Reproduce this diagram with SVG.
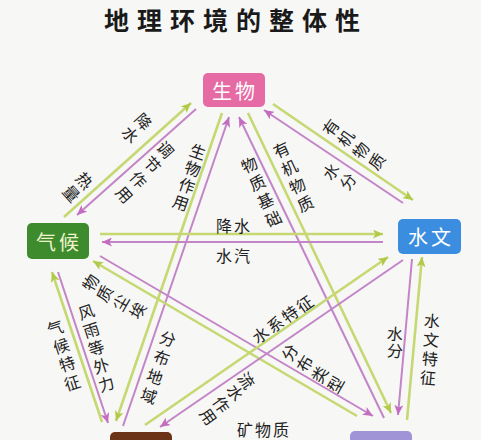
<svg xmlns="http://www.w3.org/2000/svg" width="481" height="440" viewBox="0 0 481 440">
<style>
.g{stroke:#c6d872;stroke-width:2.6;fill:none}
.p{stroke:#c384c8;stroke-width:2;fill:none}
.lb{font-family:"Noto Sans CJK SC","Noto Sans",sans-serif;font-size:16px;fill:#222;text-anchor:middle;dominant-baseline:central}
.nt{font-family:"Noto Sans CJK SC","Noto Sans",sans-serif;font-size:20px;text-anchor:middle;dominant-baseline:central;letter-spacing:3px}
.title{font-family:"Noto Sans CJK SC","Noto Sans",sans-serif;font-size:25px;font-weight:bold;fill:#1a1a1a;text-anchor:middle;letter-spacing:8px}
</style>
<defs>
<marker id="ag" markerUnits="userSpaceOnUse" markerWidth="11" markerHeight="9" refX="10" refY="4.5" orient="auto"><path d="M0,0 L10,4.5 L0,9 L2.5,4.5 z" fill="#b2ca4a"/></marker>
<marker id="ap" markerUnits="userSpaceOnUse" markerWidth="11" markerHeight="9" refX="10" refY="4.5" orient="auto"><path d="M0,0 L10,4.5 L0,9 L2.5,4.5 z" fill="#c46cc0"/></marker>
</defs>
<rect width="481" height="440" fill="#f7f7f5"/>
<text class="title" x="236" y="30">地理环境的整体性</text>

<g id="connectors">
<line class="g" x1="64" y1="217" x2="191" y2="103" marker-end="url(#ag)"/>
<line class="p" x1="196" y1="109" x2="77" y2="215" marker-end="url(#ap)"/>
<line class="g" x1="222" y1="113" x2="116" y2="421" marker-end="url(#ag)"/>
<line class="p" x1="123" y1="426" x2="229" y2="117" marker-end="url(#ap)"/>
<line class="g" x1="248" y1="113" x2="391" y2="413" marker-end="url(#ag)"/>
<line class="p" x1="384" y1="418" x2="239" y2="117" marker-end="url(#ap)"/>
<line class="g" x1="273" y1="104" x2="413" y2="200" marker-end="url(#ag)"/>
<line class="p" x1="403" y1="203" x2="264" y2="110" marker-end="url(#ap)"/>
<line class="g" x1="100" y1="234" x2="383" y2="234" marker-end="url(#ag)"/>
<line class="p" x1="383" y1="242" x2="102" y2="242" marker-end="url(#ap)"/>
<line class="g" x1="357" y1="416" x2="93" y2="261" marker-end="url(#ag)"/>
<line class="p" x1="100" y1="256" x2="373" y2="416" marker-end="url(#ap)"/>
<line class="g" x1="102" y1="422" x2="52" y2="272" marker-end="url(#ag)"/>
<line class="p" x1="58" y1="272" x2="108" y2="423" marker-end="url(#ap)"/>
<line class="g" x1="145" y1="425" x2="388" y2="257" marker-end="url(#ag)"/>
<line class="p" x1="403" y1="260" x2="160" y2="427" marker-end="url(#ap)"/>
<line class="g" x1="407" y1="420" x2="422" y2="257" marker-end="url(#ag)"/>
<line class="p" x1="412" y1="259" x2="398" y2="415" marker-end="url(#ap)"/>
</g>

<g id="labels">
<text class="lb" transform="translate(144,121) rotate(48)">降</text>
<text class="lb" transform="translate(131,134) rotate(48)">水</text>
<text class="lb" transform="translate(85,180) rotate(48)">热</text>
<text class="lb" transform="translate(72,193) rotate(48)">量</text>
<text class="lb" transform="translate(166,149) rotate(48)">调</text>
<text class="lb" transform="translate(153,164) rotate(48)">节</text>
<text class="lb" transform="translate(139,179) rotate(48)">作</text>
<text class="lb" transform="translate(125,194) rotate(48)">用</text>

<text class="lb" transform="translate(198,151) rotate(19)">生</text>
<text class="lb" transform="translate(193,168) rotate(19)">物</text>
<text class="lb" transform="translate(187,185) rotate(19)">作</text>
<text class="lb" transform="translate(181,202) rotate(19)">用</text>
<text class="lb" transform="translate(168,338) rotate(19)">分</text>
<text class="lb" transform="translate(162,357) rotate(19)">布</text>
<text class="lb" transform="translate(155,376) rotate(19)">地</text>
<text class="lb" transform="translate(149,395) rotate(19)">域</text>

<text class="lb" transform="translate(249,164) rotate(-25)">物</text>
<text class="lb" transform="translate(257,182) rotate(-25)">质</text>
<text class="lb" transform="translate(265,200) rotate(-25)">基</text>
<text class="lb" transform="translate(273,218) rotate(-25)">础</text>
<text class="lb" transform="translate(281,149) rotate(-25)">有</text>
<text class="lb" transform="translate(289,167) rotate(-25)">机</text>
<text class="lb" transform="translate(297,185) rotate(-25)">物</text>
<text class="lb" transform="translate(305,203) rotate(-25)">质</text>

<text class="lb" transform="translate(330,127) rotate(-55)">有</text>
<text class="lb" transform="translate(345,138) rotate(-55)">机</text>
<text class="lb" transform="translate(360,150) rotate(-55)">物</text>
<text class="lb" transform="translate(376,161) rotate(-55)">质</text>
<text class="lb" transform="translate(330,171) rotate(-55)">水</text>
<text class="lb" transform="translate(347,181) rotate(-55)">分</text>

<text class="lb" x="234" y="225" style="letter-spacing:2px">降水</text>
<text class="lb" x="234" y="255" style="letter-spacing:2px">水汽</text>

<text class="lb" transform="translate(90,282) rotate(-60)">物</text>
<text class="lb" transform="translate(104,293) rotate(-60)">质</text>
<text class="lb" transform="translate(120,302) rotate(-60)">尘</text>
<text class="lb" transform="translate(137,310) rotate(-60)">埃</text>
<text class="lb" transform="translate(289,352) rotate(-60)">分</text>
<text class="lb" transform="translate(304,363) rotate(-60)">布</text>
<text class="lb" transform="translate(319,374) rotate(-60)">类</text>
<text class="lb" transform="translate(335,384) rotate(-60)">型</text>

<text class="lb" transform="translate(283,318) rotate(-35)" style="letter-spacing:2px">水系特征</text>
<text class="lb" transform="translate(247,380) rotate(55)">流</text>
<text class="lb" transform="translate(236,392) rotate(55)">水</text>
<text class="lb" transform="translate(222,404) rotate(55)">作</text>
<text class="lb" transform="translate(209,416) rotate(55)">用</text>

<text class="lb" transform="translate(395,333) rotate(5)">水</text>
<text class="lb" transform="translate(395,350) rotate(5)">分</text>
<text class="lb" transform="translate(432,320) rotate(5)">水</text>
<text class="lb" transform="translate(431,339) rotate(5)">文</text>
<text class="lb" transform="translate(430,358) rotate(5)">特</text>
<text class="lb" transform="translate(428,377) rotate(5)">征</text>

<text class="lb" transform="translate(55,327) rotate(-18)">气</text>
<text class="lb" transform="translate(61,345) rotate(-18)">候</text>
<text class="lb" transform="translate(67,363) rotate(-18)">特</text>
<text class="lb" transform="translate(72,382) rotate(-18)">征</text>
<text class="lb" transform="translate(86,311) rotate(-18)">风</text>
<text class="lb" transform="translate(91,329) rotate(-18)">雨</text>
<text class="lb" transform="translate(96,347) rotate(-18)">等</text>
<text class="lb" transform="translate(101,365) rotate(-18)">外</text>
<text class="lb" transform="translate(106,383) rotate(-18)">力</text>

<text class="lb" x="264" y="429" style="letter-spacing:2px">矿物质</text>
</g>

<g id="node-shengwu">
<rect x="203" y="73" width="62" height="34" rx="5" fill="#e66aa3"/>
<text class="nt" x="235" y="90" fill="#ffffff">生物</text>
</g>
<g id="node-qihou">
<rect x="27" y="223" width="62" height="36" rx="5" fill="#3e8b2e"/>
<text class="nt" x="59" y="241" fill="#eef3cc">气候</text>
</g>
<g id="node-shuiwen">
<rect x="398" y="219" width="63" height="35" rx="5" fill="#3b8de0"/>
<text class="nt" x="431" y="236" fill="#ffffff">水文</text>
</g>
<g id="node-yanshi">
<rect x="110" y="432" width="62" height="34" rx="5" fill="#6b3317"/>
</g>
<g id="node-turang">
<rect x="350" y="431" width="62" height="34" rx="5" fill="#a093d6"/>
<text class="nt" x="382" y="449" fill="#ffffff">土壤</text>
</g>
</svg>
